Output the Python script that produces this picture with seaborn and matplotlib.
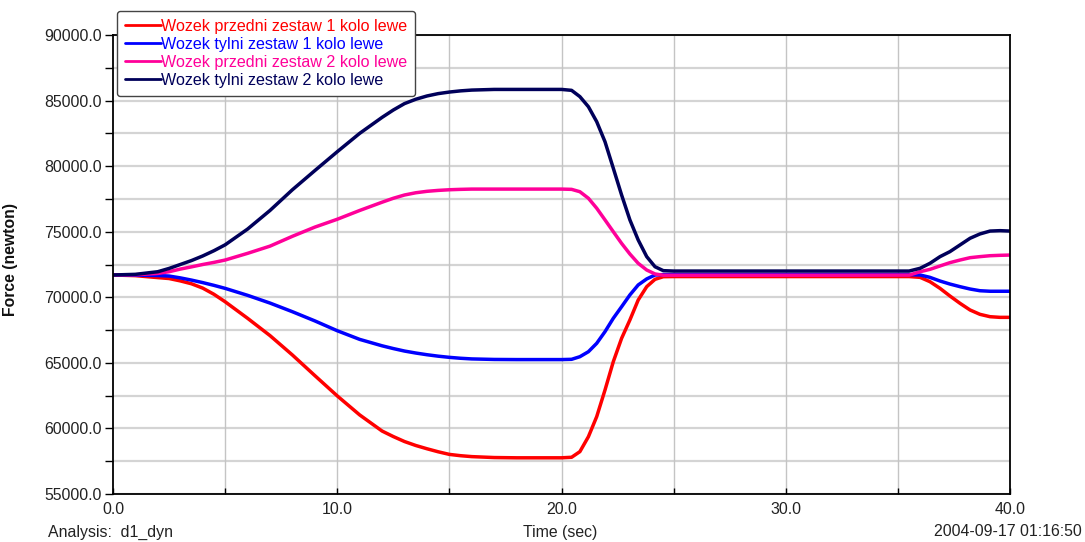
import matplotlib
matplotlib.use("Agg")
import matplotlib.pyplot as plt
import seaborn as sns
import pandas as pd
from matplotlib.ticker import MultipleLocator, FormatStrFormatter

# ---- data ----
time = [0, 1, 2, 2.5, 3, 3.5, 4, 4.5, 5, 6, 7, 8, 9, 10, 11, 12, 12.5, 13, 13.5, 14, 14.5, 15, 15.5, 16, 17, 18, 19, 20,
        20.45, 20.82, 21.2, 21.57, 21.94, 22.31, 22.68, 23.05, 23.42, 23.8, 24.17, 24.54, 25, 28, 32,
        35.5, 35.99, 36.43, 36.88, 37.32, 37.77, 38.22, 38.66, 39.11, 39.55, 40]

front1 = [71700, 71650, 71500, 71430, 71250, 71030, 70700, 70230, 69660, 68400, 67080, 65600, 64030, 62480,
          61030, 59800, 59380, 59000, 58700, 58450, 58220, 58020, 57920, 57850, 57780, 57760, 57760, 57760,
          57800, 58230, 59370, 60900, 62930, 65090, 66870, 68270, 69790, 70810, 71370, 71570, 71580, 71580, 71580,
          71580, 71520, 71190, 70680, 70100, 69540, 69030, 68700, 68520, 68470, 68470]

rear1 = [71700, 71690, 71660, 71620, 71480, 71310, 71120, 70910, 70680, 70150, 69560, 68900, 68200, 67450,
         66790, 66300, 66090, 65900, 65750, 65620, 65510, 65420, 65350, 65300, 65260, 65250, 65250, 65250,
         65270, 65470, 65850, 66490, 67380, 68400, 69280, 70180, 70940, 71400, 71700, 71730, 71730, 71730, 71730,
         71730, 71700, 71520, 71240, 71010, 70810, 70630, 70500, 70460, 70460, 70460]

front2 = [71700, 71720, 71820, 71950, 72150, 72320, 72500, 72660, 72840, 73350, 73900, 74650, 75350, 75950,
          76620, 77250, 77550, 77800, 77970, 78080, 78150, 78200, 78230, 78250, 78250, 78250, 78250, 78250,
          78230, 78050, 77550, 76790, 75900, 75000, 74110, 73300, 72590, 72080, 71780, 71680, 71680, 71680, 71680,
          71690, 71950, 72130, 72390, 72640, 72840, 73020, 73100, 73170, 73200, 73220]

rear2 = [71700, 71750, 71950, 72200, 72500, 72800, 73150, 73550, 74000, 75200, 76620, 78200, 79660, 81100,
         82500, 83720, 84280, 84770, 85100, 85350, 85530, 85650, 85740, 85800, 85850, 85850, 85850, 85850,
         85780, 85300, 84530, 83390, 81860, 79840, 77800, 75900, 74370, 73100, 72330, 72030, 72000, 72000, 72000,
         72000, 72210, 72590, 73100, 73480, 73990, 74500, 74830, 75050, 75080, 75050]

labels = ["Wozek przedni zestaw 1 kolo lewe",
          "Wozek tylni zestaw 1 kolo lewe",
          "Wozek przedni zestaw 2 kolo lewe",
          "Wozek tylni zestaw 2 kolo lewe"]
colors = ["#ff0000", "#0000ff", "#ff0099", "#00005a"]

x_ticks = [0.0, 10.0, 20.0, 30.0, 40.0]
y_ticks = [55000, 60000, 65000, 70000, 75000, 80000, 85000, 90000]

# ---- build long-form table ----
frames = []
for lab, vals in zip(labels, [front1, rear1, front2, rear2]):
    frames.append(pd.DataFrame({"Time": time, "Force": vals, "Series": lab}))
df = pd.concat(frames, ignore_index=True)

sns.set_theme(style="white")
plt.rcParams["font.family"] = ["Liberation Sans", "DejaVu Sans"]

fig = plt.figure(figsize=(10.85, 5.42), dpi=100)
ax = fig.add_axes([113/1085, 1 - 494/542, (1010-113)/1085, (494-35)/542])

sns.lineplot(data=df, x="Time", y="Force", hue="Series", hue_order=labels,
             palette=dict(zip(labels, colors)), sort=False, linewidth=2.5,
             ax=ax, legend=False, estimator=None,
             solid_joinstyle="round", solid_capstyle="butt")

ax.set_xlim(x_ticks[0], x_ticks[-1])
ax.set_ylim(y_ticks[0], y_ticks[-1])
ax.set_xticks(x_ticks)
ax.set_yticks(y_ticks)
ax.xaxis.set_major_formatter(FormatStrFormatter("%.1f"))
ax.yaxis.set_major_formatter(FormatStrFormatter("%.1f"))
ax.xaxis.set_minor_locator(MultipleLocator(5))
ax.yaxis.set_minor_locator(MultipleLocator(2500))

# grid
for yv in range(55000, 90001, 2500):
    ax.axhline(yv, color="#d4d4d4", linewidth=1.6, zorder=0)
for xv in range(5, 40, 5):
    ax.axvline(xv, color="#c4c4c4", linewidth=1.0, zorder=0)

for s in ax.spines.values():
    s.set_color("black")
    s.set_linewidth(1.3)

fs = 11.4
ax.tick_params(axis="y", which="both", direction="out", length=6, width=1,
               color="black", labelsize=fs, labelcolor="#222222", pad=2, left=True)
ax.tick_params(axis="x", which="both", direction="in", length=4, width=1,
               color="black", labelsize=fs, labelcolor="#222222", pad=6, bottom=True)

ax.set_xlabel("")
ax.set_ylabel("Force (newton)", fontsize=11.3, fontweight="bold", color="#111111")
ax.yaxis.set_label_coords((18 - 113) / 897, 0.51)

fig.text(560/1085, 1 - 532/542, "Time (sec)", ha="center", va="center", fontsize=fs, color="#222222")
fig.text(48/1085, 1 - 532/542, "Analysis:  d1_dyn", ha="left", va="center", fontsize=fs, color="#222222")
fig.text(1082/1085, 1 - 532/542, "2004-09-17 01:16:50", ha="right", va="center", fontsize=fs, color="#222222")

handles = [plt.Line2D([], [], color=c, linewidth=2) for c in colors]
leg = fig.legend(handles, labels, loc="upper left",
                 bbox_to_anchor=(117/1085, 1 - 11/542), fontsize=11.6,
                 labelcolor=colors, frameon=True, fancybox=True, framealpha=1,
                 edgecolor="#444444", handlelength=2.2, handletextpad=0.05,
                 labelspacing=0.18, borderpad=0.5, borderaxespad=0)
leg.get_frame().set_linewidth(1.0)
leg.set_zorder(10)

fig.savefig("out.png", dpi=100)
